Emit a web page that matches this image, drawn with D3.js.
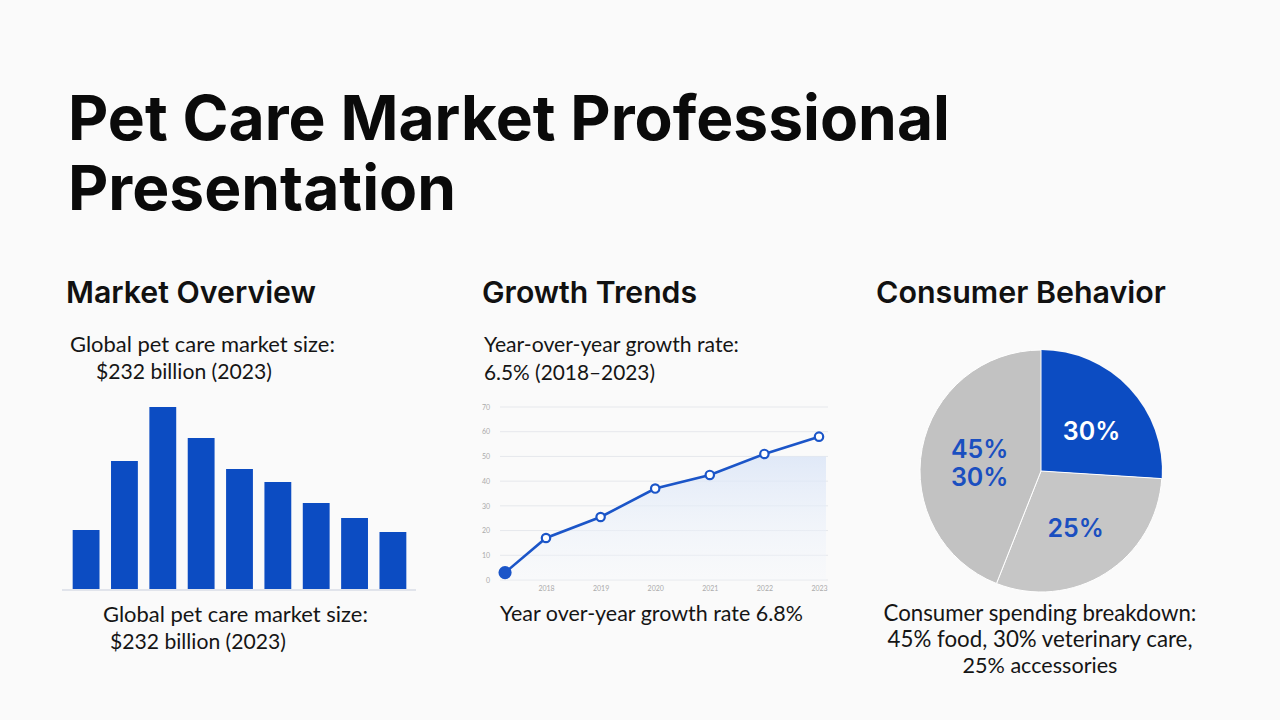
<!DOCTYPE html>
<html><head><meta charset="utf-8">
<script src="https://cdn.jsdelivr.net/npm/d3@7"></script>
<style>
html,body{margin:0;padding:0;background:#fafafa;}
svg{display:block;}
</style></head>
<body>
<svg id="c" width="1280" height="720"></svg>
<script>
// ---------- DATA ----------
const titleLines = ["Pet Care Market Professional", "Presentation"];
const sectionTitles = ["Market Overview", "Growth Trends", "Consumer Behavior"];
const marketSubtitle = ["Global pet care market size:", "$232 billion (2023)"];
const growthSubtitle = ["Year-over-year growth rate:", "6.5% (2018–2023)"];
const marketCaption = ["Global pet care market size:", "$232 billion (2023)"];
const growthCaption = ["Year over-year growth rate 6.8%"];
const consumerCaption = ["Consumer spending breakdown:", "45% food, 30% veterinary care,", "25% accessories"];

const barCategories = ["2015","2016","2017","2018","2019","2020","2021","2022","2023"];
const barValues = [59, 128, 182, 151, 120, 107, 86, 71, 57];

const lineYears = [2017.25, 2018, 2019, 2020, 2021, 2022, 2023];
const lineValues = [3, 17, 25.5, 37, 42.5, 51, 58];
const lineYTicks = [0, 10, 20, 30, 40, 50, 60, 70];
const lineXTicks = [2018, 2019, 2020, 2021, 2022, 2023];

const pieCategories = ["Veterinary care", "Accessories", "Food"];
const pieValues = [26, 30, 44];
const pieLabels = [["30%"], ["25%"], ["45%", "30%"]];

// ---------- STYLE ----------
const BLUE = "#0c4cc2";
const svg = d3.select("#c");
svg.append("rect").attr("width",1280).attr("height",720).attr("fill","#fafafa");

function fit(sel, w){
  const len = sel.node().getComputedTextLength();
  const fs = parseFloat(sel.attr("font-size"));
  sel.attr("font-size", (fs * w / len).toFixed(2));
}

// Title
const titleFont = "Inter, 'Noto Sans', sans-serif";
let titleSize = 60;
titleLines.forEach((t,i)=>{
  const s = svg.append("text").attr("x",68).attr("y",140 + i*70)
    .attr("font-family",titleFont).attr("font-weight",700).attr("font-size",titleSize)
    .attr("fill","#0a0a0a").text(t);
  if(i===0){ fit(s, 882); titleSize = s.attr("font-size"); }
});

// Section headings
const headX = [66, 482, 876], headW = [250, 215, 290];
sectionTitles.forEach((t,i)=>{
  const s = svg.append("text").attr("x",headX[i]).attr("y",303)
    .attr("font-family",titleFont).attr("font-weight",600).attr("font-size",28)
    .attr("fill","#111").text(t);
  fit(s, headW[i]);
});

const bodyFont = "Lato, 'Open Sans', sans-serif";
function lines(arr, x, y0, dy, anchor, widths){
  arr.forEach((t,i)=>{
    const s = svg.append("text").attr("x", Array.isArray(x)?x[i]:x).attr("y", y0+i*dy)
      .attr("font-family",bodyFont).attr("font-size",20).attr("fill","#151515")
      .attr("text-anchor",anchor).text(t);
    if(widths && widths[i]) fit(s, widths[i]);
  });
}
lines(marketSubtitle, [70, 96], 352, 27, "start", [265, 176]);
lines(growthSubtitle, 484, 352, 28, "start", [255, 171]);
lines(marketCaption, [103, 110], 622, 27, "start", [265, 176]);
lines(growthCaption, 500, 621, 27, "start", [303]);
lines(consumerCaption, 1040, 621, 26, "middle", [313, 305, 155]);

// ---------- BAR CHART ----------
const bx = d3.scaleBand().domain(barCategories).range([65, 414]).paddingInner(0.3).paddingOuter(0.2);
const by = d3.scaleLinear().domain([0, 182]).range([589, 407]);
svg.append("line").attr("x1",62).attr("x2",416).attr("y1",590).attr("y2",590)
  .attr("stroke","#d8dde6").attr("stroke-width",1.5);
svg.append("g").selectAll("rect").data(barValues).join("rect")
  .attr("x",(d,i)=>bx(barCategories[i])).attr("width",bx.bandwidth())
  .attr("y",d=>by(d)).attr("height",d=>by(0)-by(d)).attr("fill",BLUE);

// ---------- LINE CHART ----------
const lx = d3.scaleLinear().domain([2018, 2023]).range([546, 819]);
const ly = d3.scaleLinear().domain([0, 70]).range([580, 407]);
const grid = svg.append("g");
grid.selectAll("line").data(lineYTicks).join("line")
  .attr("x1",500).attr("x2",828).attr("y1",d=>ly(d)).attr("y2",d=>ly(d))
  .attr("stroke","#e6e8ec").attr("stroke-width",1);
const yAxis = svg.append("g").attr("transform","translate(490,0)")
  .call(d3.axisLeft(ly).tickValues(lineYTicks).tickSize(0).tickPadding(0));
yAxis.select(".domain").remove();
yAxis.selectAll("text").attr("font-size",7).attr("fill","#aaa").attr("font-family",bodyFont);
const xAxis = svg.append("g").attr("transform","translate(0,586)")
  .call(d3.axisBottom(lx).tickValues(lineXTicks).tickFormat(d3.format("d")).tickSize(0).tickPadding(0));
xAxis.select(".domain").remove();
xAxis.selectAll("text").attr("font-size",7).attr("fill","#aaa").attr("font-family",bodyFont);

const defs = svg.append("defs");
const grad = defs.append("linearGradient").attr("id","ag").attr("x1",0).attr("x2",0).attr("y1",0).attr("y2",1);
grad.append("stop").attr("offset","0%").attr("stop-color","#d6e2f6").attr("stop-opacity",0.9);
grad.append("stop").attr("offset","100%").attr("stop-color","#f4f7fc").attr("stop-opacity",0.3);
defs.append("clipPath").attr("id","acl").append("rect")
  .attr("x",lx(lineYears[0])).attr("width",826-lx(lineYears[0])).attr("y",ly(50)).attr("height",ly(0)-ly(50));
const pts = lineYears.map((y,i)=>[y, lineValues[i]]);
const areaPts = pts.concat([[lx.invert(826), lineValues[lineValues.length-1]]]);
svg.append("path").datum(areaPts)
  .attr("d", d3.area().x(d=>lx(d[0])).y0(ly(0)).y1(d=>ly(d[1])))
  .attr("fill","url(#ag)").attr("clip-path","url(#acl)");
svg.append("path").datum(pts)
  .attr("d", d3.line().x(d=>lx(d[0])).y(d=>ly(d[1])))
  .attr("fill","none").attr("stroke","#1b55c8").attr("stroke-width",2.6);
svg.append("g").selectAll("circle").data(pts).join("circle")
  .attr("cx",d=>lx(d[0])).attr("cy",d=>ly(d[1]))
  .attr("r",(d,i)=>i===0?5.5:4.2)
  .attr("fill",(d,i)=>i===0?"#1b55c8":"#fff")
  .attr("stroke","#1b55c8").attr("stroke-width",2.2);

// ---------- PIE ----------
const cx = 1041, cy = 471, R = 121;
const pie = d3.pie().sort(null).value(d=>d)(pieValues);
const arc = d3.arc().innerRadius(0).outerRadius(R);
const pieColors = [BLUE, "#c6c6c6", "#c2c2c2"];
const pg = svg.append("g").attr("transform",`translate(${cx},${cy})`);
pg.selectAll("path").data(pie).join("path").attr("d",arc)
  .attr("fill",(d,i)=>pieColors[i]).attr("stroke","#fff").attr("stroke-width",(d,i)=>i===0?0:1);
const labelArc = d3.arc().innerRadius(R*0.55).outerRadius(R*0.55);
const labelOff = [[2,6],[-1,1],[4,4]];
pie.forEach((p,i)=>{
  const c = labelArc.centroid(p);
  const ls = pieLabels[i];
  ls.forEach((t,j)=>{
    pg.append("text")
      .attr("x", c[0]+labelOff[i][0]).attr("y", c[1]+labelOff[i][1] + (j-(ls.length-1)/2)*28 + 9)
      .attr("text-anchor","middle").attr("font-family",titleFont).attr("font-weight",600)
      .attr("font-size",25).attr("fill", i===0?"#fff":"#1a4fc0").text(t);
  });
});
</script>
</body></html>
